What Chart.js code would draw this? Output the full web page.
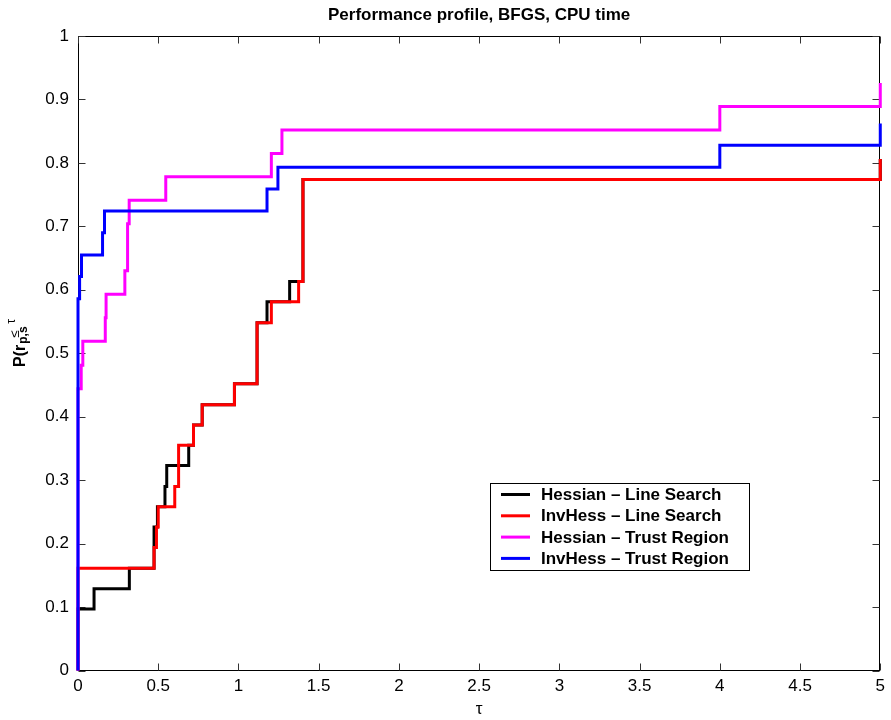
<!DOCTYPE html>
<html>
<head>
<meta charset="utf-8">
<script src="https://cdn.jsdelivr.net/npm/chart.js@4.4.0/dist/chart.umd.min.js"></script>
<style>
  body { margin: 0; background: #fff; }
  #wrap { width: 891px; height: 720px; }
</style>
</head>
<body>
<div id="wrap"><canvas id="perfChart" width="891" height="720"></canvas></div>
<script>
// Step breakpoints (tau) and profile values P for each solver
var hessLsTau = [0, 0, 0.10, 0.32, 0.474, 0.474, 0.495, 0.542, 0.553, 0.69, 0.72, 0.774, 0.975, 1.116, 1.178, 1.319, 1.402, 5];
var hessLsP   = [0, 0.097, 0.129, 0.161, 0.194, 0.226, 0.258, 0.290, 0.323, 0.355, 0.387, 0.419, 0.452, 0.548, 0.581, 0.613, 0.774, 0.806];

var invLsTau = [0, 0, 0.474, 0.489, 0.50, 0.603, 0.627, 0.627, 0.72, 0.774, 0.975, 1.116, 1.205, 1.375, 1.402, 5];
var invLsP   = [0, 0.161, 0.194, 0.226, 0.258, 0.290, 0.323, 0.355, 0.387, 0.419, 0.452, 0.548, 0.581, 0.613, 0.774, 0.806];

var hessTrTau = [0, 0, 0.02, 0.03, 0.17, 0.175, 0.292, 0.309, 0.309, 0.319, 0.547, 1.205, 1.271, 4.0, 5];
var hessTrP   = [0, 0.444, 0.481, 0.519, 0.556, 0.593, 0.630, 0.667, 0.704, 0.741, 0.778, 0.815, 0.852, 0.889, 0.926];

var invTrTau = [0, 0, 0.01, 0.022, 0.153, 0.165, 1.178, 1.246, 4.0, 5];
var invTrP   = [0, 0.586, 0.621, 0.655, 0.690, 0.724, 0.759, 0.793, 0.828, 0.862];

// Labels, colors, ticks
var seriesLabels = ["Hessian \u2013 Line Search", "InvHess \u2013 Line Search", "Hessian \u2013 Trust Region", "InvHess \u2013 Trust Region"];
var lineColors = ["#000000", "#ff0000", "#ff00ff", "#0000ff"];
var xTicks = [0, 0.5, 1, 1.5, 2, 2.5, 3, 3.5, 4, 4.5, 5];
var yTicks = [0, 0.1, 0.2, 0.3, 0.4, 0.5, 0.6, 0.7, 0.8, 0.9, 1];

var FONT = "'Liberation Sans', Arial, Helvetica, sans-serif";

function toPoints(xs, ys) {
  var pts = [];
  for (let i = 0; i < xs.length; i++) pts.push({ x: xs[i], y: ys[i] });
  return pts;
}

var seriesData = [
  toPoints(hessLsTau, hessLsP),
  toPoints(invLsTau, invLsP),
  toPoints(hessTrTau, hessTrP),
  toPoints(invTrTau, invTrP)
];

// later series drawn on top, like matlab
var datasets = seriesData.map(function (pts, i) {
  return {
    label: seriesLabels[i],
    data: pts,
    borderColor: lineColors[i],
    borderWidth: 3,
    stepped: 'before',
    pointRadius: 0,
    fill: false,
    clip: 4,
    order: seriesData.length - i
  };
});

// axes box with inward ticks, drawn under the lines
var axesBox = {
  id: 'axesBox',
  beforeDatasetsDraw: function (chart) {
    var ctx = chart.ctx, a = chart.chartArea;
    var xs = chart.scales.x, ys = chart.scales.y;
    var L = Math.round(a.left) + 0.5, R = Math.round(a.right) - 0.5;
    var T = Math.round(a.top) + 0.5, B = Math.round(a.bottom) - 0.5;
    ctx.save();
    ctx.strokeStyle = '#000';
    ctx.lineWidth = 1;
    ctx.strokeRect(L, T, R - L, B - T);
    ctx.strokeStyle = '#333';
    ctx.beginPath();
    xTicks.forEach(function (v) {
      var px = Math.round(xs.getPixelForValue(v)) + 0.5;
      ctx.moveTo(px, B); ctx.lineTo(px, B - 7);
      ctx.moveTo(px, T); ctx.lineTo(px, T + 7);
    });
    yTicks.forEach(function (v) {
      var py = Math.round(ys.getPixelForValue(v)) + 0.5;
      ctx.moveTo(L, py); ctx.lineTo(L + 7, py);
      ctx.moveTo(R, py); ctx.lineTo(R - 7, py);
    });
    ctx.stroke();
    ctx.restore();
  }
};

// title, y label and the boxed legend
var decorations = {
  id: 'decorations',
  afterDraw: function (chart) {
    var ctx = chart.ctx, a = chart.chartArea;
    ctx.save();
    ctx.fillStyle = '#000';

    // title
    ctx.font = 'bold 17px ' + FONT;
    ctx.textAlign = 'center';
    ctx.textBaseline = 'middle';
    ctx.fillText('Performance profile, BFGS, CPU time', (a.left + a.right) / 2, 15);

    // y label: P(r_{p,s} <= tau
    ctx.save();
    ctx.translate(25, 367);
    ctx.rotate(-Math.PI / 2);
    ctx.textAlign = 'left';
    ctx.textBaseline = 'alphabetic';
    ctx.font = 'bold 16px ' + FONT;
    var main = 'P(r';
    ctx.fillText(main, 0, 0);
    var w = ctx.measureText(main).width;
    ctx.font = 'bold 12px ' + FONT;
    ctx.fillText('p,s', w + 1, 2);
    ctx.font = '13px ' + FONT;
    ctx.fillText('\u2264', w + 7, -6);
    ctx.font = '12px ' + FONT;
    ctx.fillText('\u03c4', w + 21, -10);
    ctx.restore();

    // legend
    var bx = 490, by = 483, bw = 259, bh = 87;
    ctx.fillStyle = '#fff';
    ctx.fillRect(bx, by, bw, bh);
    ctx.strokeStyle = '#000';
    ctx.lineWidth = 1;
    ctx.strokeRect(bx + 0.5, by + 0.5, bw, bh);
    ctx.font = 'bold 17px ' + FONT;
    ctx.textAlign = 'left';
    ctx.textBaseline = 'middle';
    chart.data.datasets.forEach(function (ds, i) {
      var cy = by + 11.5 + i * 21.3;
      ctx.strokeStyle = ds.borderColor;
      ctx.lineWidth = 3;
      ctx.beginPath();
      ctx.moveTo(bx + 11, cy);
      ctx.lineTo(bx + 40, cy);
      ctx.stroke();
      ctx.fillStyle = '#000';
      ctx.fillText(ds.label, bx + 51, cy + 1);
    });
    ctx.restore();
  }
};

new Chart(document.getElementById('perfChart'), {
  type: 'line',
  data: { datasets: datasets },
  options: {
    responsive: false,
    animation: false,
    layout: { padding: { left: 0, right: 8.5, top: 36, bottom: 0 } },
    plugins: {
      legend: { display: false },
      tooltip: { enabled: false }
    },
    scales: {
      x: {
        type: 'linear',
        min: 0,
        max: 5,
        grid: { display: false, drawTicks: false },
        border: { display: false },
        afterBuildTicks: function (s) { s.ticks = xTicks.map(function (v) { return { value: v }; }); },
        afterFit: function (s) { s.height = 49.5; },
        ticks: {
          color: '#000',
          padding: 6,
          maxRotation: 0,
          autoSkip: false,
          font: { family: FONT, size: 17 },
          callback: function (v) { return String(v); }
        },
        title: {
          display: true,
          text: '\u03c4',
          color: '#000',
          padding: 0,
          font: { family: FONT, size: 17 }
        }
      },
      y: {
        type: 'linear',
        min: 0,
        max: 1,
        grid: { display: false, drawTicks: false },
        border: { display: false },
        afterBuildTicks: function (s) { s.ticks = yTicks.map(function (v) { return { value: v }; }); },
        afterFit: function (s) { s.width = 78; },
        ticks: {
          color: '#000',
          padding: 9,
          autoSkip: false,
          font: { family: FONT, size: 17 },
          callback: function (v) { return String(v); }
        }
      }
    }
  },
  plugins: [axesBox, decorations]
});
</script>
</body>
</html>
